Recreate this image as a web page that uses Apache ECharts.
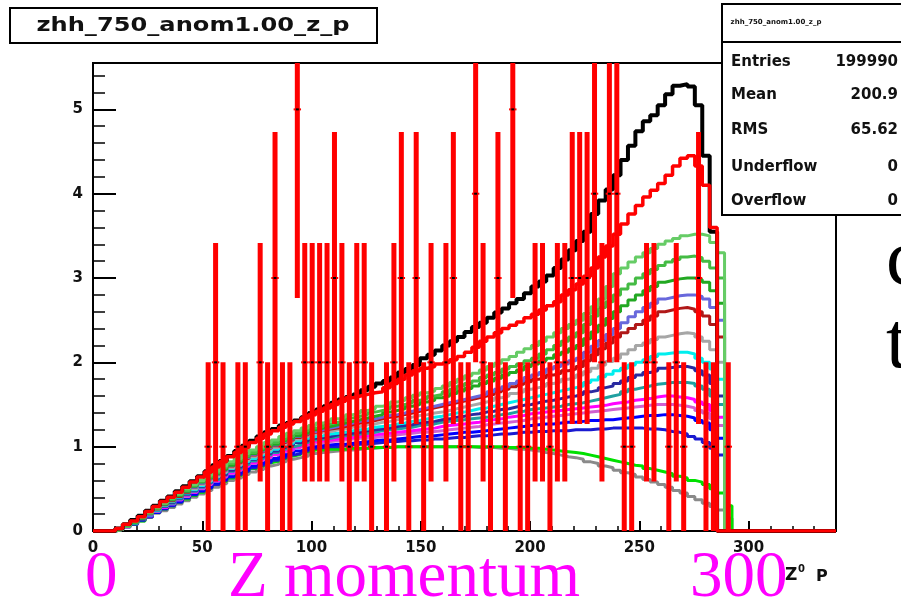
<!DOCTYPE html>
<html>
<head>
<meta charset="utf-8">
<script src="https://cdn.jsdelivr.net/npm/echarts@6/dist/echarts.min.js"></script>
<style>
html, body { margin: 0; padding: 0; background: #fff; }
#chart { width: 901px; height: 605px; }
</style>
</head>
<body>
<div id="chart"></div>
<script>
// histogram layout: 100 bins over 0..340
const X_MIN = 0, X_MAX = 340, NBINS = 100
const BIN_W = (X_MAX - X_MIN) / NBINS
const Y_MAX = 5.55

// tick labels
const xTickLabels = [0, 50, 100, 150, 200, 250, 300]
const yTickLabels = [0, 1, 2, 3, 4, 5]

// bin contents, bin 0 first (empty bins after the end are 0)
const hBlack = [0,0,0,0.03,0.08,0.13,0.18,0.24,0.3,0.36,0.41,0.47,0.53,0.59,0.65,0.71,0.78,0.83,0.89,0.95,1.01,1.07,1.12,1.17,1.21,1.25,1.28,1.31,1.35,1.4,1.44,1.48,1.52,1.56,1.59,1.62,1.67,1.71,1.75,1.78,1.82,1.88,1.92,1.97,2.05,2.09,2.14,2.2,2.25,2.3,2.36,2.42,2.47,2.53,2.59,2.64,2.7,2.75,2.82,2.9,2.96,3.03,3.12,3.22,3.33,3.44,3.55,3.76,3.92,4.05,4.22,4.4,4.57,4.74,4.86,4.93,5.05,5.18,5.28,5.3,5.27,5.05,4.45,3.55,0,0]
const hRedMC = [0,0,0,0.03,0.08,0.12,0.17,0.23,0.29,0.35,0.4,0.46,0.52,0.58,0.64,0.7,0.76,0.82,0.88,0.93,0.99,1.05,1.1,1.15,1.19,1.23,1.27,1.3,1.34,1.38,1.42,1.46,1.5,1.54,1.58,1.6,1.62,1.64,1.65,1.7,1.75,1.8,1.85,1.9,1.93,1.95,1.98,2.0,2.03,2.07,2.12,2.18,2.25,2.3,2.35,2.4,2.44,2.48,2.53,2.57,2.62,2.67,2.72,2.8,2.86,2.93,3.02,3.12,3.25,3.38,3.52,3.64,3.76,3.86,3.96,4.04,4.12,4.22,4.33,4.42,4.45,4.33,4.1,3.6,0,0]
const hLightGreen = [0,0,0,0.02,0.06,0.11,0.16,0.22,0.28,0.33,0.39,0.44,0.5,0.55,0.6,0.66,0.71,0.77,0.82,0.86,0.92,0.96,1.0,1.05,1.08,1.12,1.16,1.19,1.22,1.25,1.28,1.3,1.33,1.35,1.38,1.4,1.43,1.45,1.48,1.5,1.53,1.55,1.58,1.61,1.64,1.66,1.69,1.72,1.76,1.8,1.84,1.87,1.91,1.95,1.99,2.03,2.07,2.12,2.16,2.2,2.25,2.3,2.35,2.4,2.45,2.5,2.58,2.66,2.75,2.9,3.05,3.12,3.19,3.25,3.3,3.35,3.4,3.44,3.47,3.5,3.52,3.52,3.5,3.42,3.3,0]
const hGreenMid = [0,0,0,0.02,0.06,0.11,0.16,0.21,0.27,0.33,0.38,0.43,0.48,0.54,0.59,0.64,0.69,0.75,0.8,0.84,0.89,0.93,0.98,1.02,1.05,1.09,1.12,1.16,1.19,1.22,1.24,1.27,1.29,1.31,1.34,1.36,1.38,1.41,1.43,1.45,1.48,1.5,1.52,1.55,1.57,1.6,1.62,1.65,1.68,1.72,1.75,1.78,1.82,1.85,1.88,1.92,1.95,1.98,2.02,2.05,2.1,2.15,2.2,2.25,2.3,2.35,2.45,2.55,2.65,2.72,2.8,2.87,2.93,3.0,3.05,3.1,3.15,3.19,3.22,3.25,3.26,3.24,3.2,3.12,3.0,0]
const hGreen = [0,0,0,0.02,0.06,0.1,0.15,0.21,0.27,0.32,0.37,0.42,0.47,0.53,0.58,0.63,0.68,0.73,0.78,0.82,0.88,0.92,0.96,1.0,1.03,1.07,1.1,1.13,1.16,1.2,1.22,1.24,1.26,1.28,1.3,1.32,1.34,1.36,1.38,1.41,1.43,1.45,1.48,1.5,1.53,1.55,1.58,1.6,1.63,1.66,1.69,1.72,1.75,1.78,1.81,1.85,1.88,1.91,1.95,1.98,2.02,2.05,2.09,2.12,2.16,2.2,2.28,2.36,2.44,2.52,2.6,2.67,2.74,2.8,2.85,2.9,2.95,2.97,2.99,3.0,3.0,2.98,2.95,2.85,2.7,0]
const hSlate = [0,0,0,0.02,0.06,0.1,0.15,0.2,0.27,0.32,0.37,0.42,0.47,0.52,0.57,0.62,0.67,0.72,0.78,0.82,0.87,0.91,0.95,0.99,1.02,1.06,1.09,1.12,1.15,1.18,1.2,1.22,1.24,1.26,1.28,1.3,1.31,1.33,1.35,1.37,1.38,1.4,1.42,1.44,1.46,1.48,1.5,1.52,1.54,1.56,1.58,1.6,1.62,1.65,1.68,1.71,1.75,1.78,1.82,1.85,1.88,1.92,1.95,1.98,2.02,2.05,2.12,2.19,2.26,2.33,2.4,2.47,2.54,2.6,2.65,2.7,2.75,2.77,2.79,2.8,2.8,2.78,2.75,2.65,2.5,0]
const hDarkRed = [0,0,0,0.02,0.06,0.1,0.15,0.2,0.26,0.31,0.36,0.41,0.46,0.52,0.57,0.62,0.67,0.72,0.77,0.81,0.86,0.9,0.94,0.98,1.01,1.05,1.08,1.11,1.14,1.17,1.19,1.21,1.22,1.24,1.26,1.28,1.29,1.31,1.33,1.35,1.36,1.38,1.4,1.42,1.44,1.46,1.48,1.5,1.52,1.54,1.56,1.58,1.6,1.62,1.65,1.68,1.71,1.74,1.77,1.8,1.82,1.85,1.87,1.9,1.92,1.95,2.02,2.09,2.16,2.23,2.3,2.35,2.4,2.45,2.5,2.55,2.6,2.62,2.64,2.65,2.63,2.6,2.55,2.45,2.3,0]
const hGray = [0,0,0,0.02,0.06,0.1,0.15,0.2,0.26,0.31,0.36,0.41,0.46,0.5,0.55,0.6,0.65,0.7,0.75,0.79,0.84,0.88,0.92,0.96,0.99,1.03,1.06,1.09,1.12,1.15,1.17,1.18,1.2,1.21,1.23,1.24,1.26,1.27,1.29,1.3,1.32,1.33,1.35,1.37,1.38,1.4,1.41,1.43,1.45,1.47,1.49,1.51,1.53,1.55,1.58,1.6,1.63,1.65,1.68,1.7,1.72,1.75,1.77,1.8,1.82,1.85,1.89,1.93,1.97,2.01,2.05,2.1,2.15,2.2,2.23,2.27,2.3,2.32,2.34,2.35,2.34,2.3,2.25,2.15,2.0,0]
const hCyan = [0,0,0,0.02,0.06,0.1,0.15,0.19,0.25,0.3,0.35,0.4,0.45,0.49,0.54,0.59,0.64,0.69,0.74,0.78,0.82,0.86,0.9,0.94,0.97,1.01,1.04,1.07,1.1,1.12,1.13,1.15,1.16,1.17,1.19,1.2,1.21,1.23,1.24,1.25,1.27,1.28,1.3,1.31,1.33,1.35,1.36,1.38,1.4,1.41,1.43,1.45,1.46,1.48,1.5,1.52,1.54,1.56,1.58,1.6,1.62,1.64,1.66,1.68,1.7,1.72,1.76,1.79,1.83,1.86,1.9,1.93,1.97,2.0,2.03,2.07,2.1,2.11,2.12,2.12,2.1,2.05,2.0,1.92,1.8,0]
const hNavy = [0,0,0,0.02,0.06,0.1,0.14,0.19,0.25,0.29,0.34,0.39,0.44,0.48,0.53,0.58,0.63,0.67,0.72,0.76,0.81,0.85,0.88,0.92,0.95,0.99,1.02,1.05,1.07,1.1,1.11,1.12,1.14,1.15,1.16,1.17,1.19,1.2,1.21,1.22,1.24,1.25,1.26,1.28,1.29,1.3,1.32,1.33,1.35,1.36,1.38,1.39,1.41,1.42,1.44,1.45,1.47,1.49,1.5,1.52,1.54,1.55,1.57,1.59,1.6,1.62,1.65,1.67,1.7,1.72,1.75,1.78,1.82,1.85,1.88,1.9,1.93,1.94,1.95,1.95,1.93,1.9,1.85,1.75,1.6,0]
const hTeal = [0,0,0,0.02,0.06,0.09,0.14,0.19,0.24,0.29,0.33,0.38,0.43,0.47,0.52,0.57,0.61,0.66,0.71,0.74,0.79,0.83,0.86,0.9,0.93,0.97,1.0,1.02,1.05,1.08,1.09,1.1,1.12,1.13,1.14,1.15,1.16,1.17,1.19,1.2,1.21,1.22,1.23,1.25,1.26,1.27,1.29,1.3,1.31,1.32,1.33,1.34,1.35,1.36,1.38,1.39,1.41,1.42,1.44,1.45,1.46,1.47,1.48,1.5,1.51,1.52,1.54,1.56,1.58,1.6,1.62,1.65,1.68,1.7,1.72,1.74,1.75,1.76,1.76,1.76,1.75,1.72,1.68,1.6,1.5,0]
const hMagenta = [0,0,0,0.02,0.05,0.09,0.14,0.18,0.24,0.28,0.33,0.37,0.42,0.46,0.51,0.56,0.6,0.65,0.69,0.73,0.77,0.81,0.85,0.88,0.91,0.95,0.97,1.0,1.03,1.06,1.07,1.08,1.09,1.1,1.11,1.12,1.13,1.14,1.15,1.16,1.17,1.18,1.19,1.2,1.21,1.22,1.24,1.25,1.26,1.27,1.28,1.29,1.31,1.32,1.33,1.35,1.36,1.37,1.39,1.4,1.41,1.42,1.43,1.44,1.45,1.46,1.47,1.48,1.49,1.51,1.52,1.53,1.55,1.56,1.57,1.59,1.6,1.6,1.59,1.58,1.56,1.53,1.5,1.43,1.35,0]
const hViolet = [0,0,0,0.02,0.05,0.09,0.14,0.18,0.23,0.28,0.32,0.37,0.41,0.46,0.5,0.55,0.59,0.64,0.68,0.72,0.77,0.8,0.84,0.87,0.9,0.94,0.96,0.99,1.02,1.04,1.05,1.06,1.07,1.08,1.09,1.1,1.1,1.11,1.12,1.13,1.14,1.15,1.16,1.17,1.17,1.18,1.19,1.2,1.21,1.22,1.23,1.24,1.26,1.27,1.28,1.29,1.3,1.31,1.33,1.34,1.35,1.36,1.37,1.38,1.39,1.4,1.41,1.42,1.43,1.44,1.45,1.46,1.47,1.48,1.49,1.5,1.5,1.5,1.49,1.48,1.46,1.43,1.4,1.33,1.25,0]
const hBlue = [0,0,0,0.02,0.05,0.09,0.13,0.17,0.22,0.27,0.31,0.35,0.4,0.44,0.48,0.52,0.57,0.61,0.65,0.69,0.73,0.77,0.8,0.83,0.86,0.89,0.92,0.95,0.97,1.0,1.01,1.02,1.03,1.03,1.04,1.05,1.06,1.07,1.08,1.08,1.09,1.1,1.11,1.12,1.12,1.13,1.14,1.15,1.16,1.17,1.17,1.18,1.19,1.2,1.21,1.22,1.23,1.24,1.25,1.26,1.27,1.27,1.28,1.29,1.29,1.3,1.31,1.31,1.32,1.32,1.33,1.34,1.35,1.36,1.37,1.37,1.38,1.38,1.37,1.36,1.34,1.31,1.28,1.2,1.1,0]
const hBlue2 = [0,0,0,0.02,0.05,0.08,0.13,0.17,0.22,0.26,0.3,0.34,0.39,0.43,0.47,0.51,0.55,0.6,0.64,0.67,0.71,0.75,0.78,0.81,0.84,0.87,0.9,0.92,0.95,0.98,0.99,1.0,1.0,1.01,1.02,1.03,1.03,1.04,1.05,1.06,1.06,1.07,1.07,1.08,1.08,1.09,1.09,1.1,1.11,1.11,1.12,1.13,1.13,1.14,1.15,1.15,1.16,1.17,1.17,1.18,1.18,1.19,1.19,1.19,1.2,1.2,1.2,1.21,1.21,1.22,1.22,1.22,1.22,1.22,1.21,1.21,1.2,1.18,1.17,1.15,1.12,1.09,1.05,0.98,0.9,0]
const hBrightGreen = [0,0,0,0.02,0.05,0.08,0.12,0.17,0.22,0.26,0.3,0.34,0.38,0.42,0.46,0.51,0.55,0.59,0.63,0.66,0.71,0.74,0.77,0.81,0.83,0.86,0.89,0.91,0.94,0.96,0.96,0.97,0.97,0.97,0.98,0.98,0.98,0.99,0.99,0.99,1.0,1.0,1.0,1.0,1.0,1.0,1.0,1.0,1.0,1.0,1.0,1.0,1.0,1.0,1.0,0.99,0.99,0.99,0.98,0.98,0.97,0.96,0.95,0.94,0.93,0.92,0.9,0.88,0.86,0.84,0.82,0.8,0.78,0.77,0.74,0.72,0.7,0.68,0.65,0.63,0.6,0.58,0.55,0.5,0.45,0.3]
const hDarkGray = [0,0,0,0.02,0.05,0.08,0.12,0.16,0.21,0.24,0.28,0.32,0.36,0.4,0.44,0.48,0.52,0.56,0.6,0.63,0.67,0.7,0.73,0.77,0.79,0.82,0.85,0.87,0.89,0.92,0.93,0.94,0.95,0.96,0.96,0.97,0.98,0.98,0.99,0.99,1.0,1.0,1.0,1.0,1.0,1.0,1.0,1.0,1.0,1.0,1.0,0.99,0.99,0.99,0.98,0.98,0.97,0.97,0.96,0.95,0.93,0.92,0.9,0.88,0.87,0.85,0.82,0.8,0.77,0.75,0.72,0.69,0.67,0.64,0.61,0.58,0.55,0.52,0.48,0.45,0.41,0.37,0.33,0.29,0.25,0.15]

// data: entries per bin (drawn with sqrt(N) error bars)
const dataCounts = [0,0,0,0,0,0,0,0,0,0,0,0,0,0,0,1,2,1,0,1,1,0,2,1,3,1,1,5,2,2,2,2,3,2,1,2,2,1,0,1,2,3,1,3,1,2,0,2,3,1,1,4,2,1,3,1,5,1,1,2,2,1,2,2,3,3,3,4,2,4,4,1,1,0,2,2,0,1,2,1,0,3,1,1,0,1]

const mcHists = [
  { name: 'darkgray', color: '#8a8a8a', vals: hDarkGray },
  { name: 'brightgreen', color: '#00e000', vals: hBrightGreen },
  { name: 'blue2', color: '#1a1ad0', vals: hBlue2 },
  { name: 'blue', color: '#0000ff', vals: hBlue },
  { name: 'violet', color: '#d060d0', vals: hViolet },
  { name: 'magenta', color: '#ff00ff', vals: hMagenta },
  { name: 'teal', color: '#20a0a0', vals: hTeal },
  { name: 'navy', color: '#2a2aa0', vals: hNavy },
  { name: 'cyan', color: '#00eeee', vals: hCyan },
  { name: 'gray', color: '#a6a6a6', vals: hGray },
  { name: 'darkred', color: '#b01818', vals: hDarkRed },
  { name: 'slate', color: '#6868dc', vals: hSlate },
  { name: 'green', color: '#22a822', vals: hGreen },
  { name: 'greenmid', color: '#44bb44', vals: hGreenMid },
  { name: 'lightgreen', color: '#66cc66', vals: hLightGreen }
]

// step points at the left edge of each bin, plus the closing edge
function stepData(vals) {
  const pts = []
  for (let i = 0; i < NBINS; i++) {
    pts.push([X_MIN + i * BIN_W, vals[i] || 0])
  }
  pts.push([X_MAX, vals[NBINS - 1] || 0])
  return pts
}

function stepSeries(name, color, vals, width, z) {
  return {
    name: name,
    type: 'line',
    step: 'end',
    data: stepData(vals),
    symbol: 'none',
    silent: true,
    z: z,
    lineStyle: { color: color, width: width }
  }
}

const errData = []
dataCounts.forEach((n, i) => {
  if (n > 0) errData.push([X_MIN + (i + 0.5) * BIN_W, n])
})

function renderErr(params, api) {
  const x = api.value(0)
  const n = api.value(1)
  const e = Math.sqrt(n)
  const top = api.coord([x, n + e])
  const bot = api.coord([x, Math.max(0, n - e)])
  const l = api.coord([x - BIN_W / 2, n])
  const r = api.coord([x + BIN_W / 2, n])
  const bar = echarts.graphic.clipRectByRect(
    { x: top[0] - 2.5, y: top[1], width: 5, height: bot[1] - top[1] },
    params.coordSys
  )
  const kids = []
  if (bar) kids.push({ type: 'rect', shape: bar, style: { fill: '#ff0000' } })
  kids.push({ type: 'line', shape: { x1: l[0], y1: l[1], x2: r[0], y2: r[1] }, style: { stroke: '#ff0000', lineWidth: 2 } })
  kids.push({ type: 'rect', shape: { x: top[0] - 1.5, y: l[1] - 1, width: 3, height: 2 }, style: { fill: '#000' } })
  return { type: 'group', children: kids }
}

const series = []
mcHists.forEach((h, k) => series.push(stepSeries(h.name, h.color, h.vals, 3, 2 + k * 0.01)))
series.push(stepSeries('black', '#000000', hBlack, 4, 3))
series.push(stepSeries('red', '#ff0000', hRedMC, 3.5, 3.1))
series.push({
  name: 'data',
  type: 'custom',
  renderItem: renderErr,
  data: errData,
  encode: { x: 0, y: 1 },
  silent: true,
  z: 4
})

const labelFont = { fontFamily: 'DejaVu Sans', fontWeight: 'bold', fontSize: 15, color: '#111' }
const magenta = '#ff00ff'

const chart = echarts.init(document.getElementById('chart'), null, { renderer: 'canvas' })

const option = {
  animation: false,
  backgroundColor: '#ffffff',
  grid: {
    left: 93, top: 63, width: 743, height: 468,
    show: true, borderColor: '#000', borderWidth: 2,
    containLabel: false, outerBoundsMode: 'none'
  },
  xAxis: [
    {
      type: 'value', min: X_MIN, max: X_MAX, interval: 50,
      axisLine: { show: true, onZero: false, lineStyle: { color: '#000', width: 2 } },
      axisTick: { show: true, inside: true, length: 10, lineStyle: { color: '#000', width: 2 } },
      axisLabel: Object.assign({
        margin: 10, showMaxLabel: false,
        formatter: v => xTickLabels.includes(v) ? String(v) : ''
      }, labelFont),
      splitLine: { show: false }
    },
    {
      type: 'value', min: X_MIN, max: X_MAX, interval: 10, position: 'bottom',
      axisLine: { show: false },
      axisTick: { show: true, inside: true, length: 5, lineStyle: { color: '#000', width: 1.5 } },
      axisLabel: { show: false },
      splitLine: { show: false }
    }
  ],
  yAxis: [
    {
      type: 'value', min: 0, max: Y_MAX, interval: 1,
      axisLine: { show: true, onZero: false, lineStyle: { color: '#000', width: 2 } },
      axisTick: { show: true, inside: true, length: 23, lineStyle: { color: '#000', width: 2 } },
      axisLabel: Object.assign({
        margin: 10, showMaxLabel: false,
        formatter: v => yTickLabels.includes(v) ? String(v) : ''
      }, labelFont),
      splitLine: { show: false }
    },
    {
      type: 'value', min: 0, max: Y_MAX, interval: 0.2, position: 'left',
      axisLine: { show: false },
      axisTick: { show: true, inside: true, length: 12, lineStyle: { color: '#000', width: 1.5 } },
      axisLabel: { show: false },
      splitLine: { show: false }
    }
  ],
  series: series,
  graphic: [
    // title box
    { type: 'rect', z: 50, shape: { x: 10, y: 8, width: 367, height: 35 }, style: { fill: '#fff', stroke: '#000', lineWidth: 2 } },
    { type: 'text', z: 51, x: 193, y: 26, scaleX: 1.27,
      style: { text: 'zhh_750_anom1.00_z_p', fill: '#111', font: 'bold 19px "DejaVu Sans"', textAlign: 'center', textVerticalAlign: 'middle' } },
    // stats box
    { type: 'rect', z: 50, shape: { x: 722, y: 4, width: 200, height: 211 }, style: { fill: '#fff', stroke: '#000', lineWidth: 2 } },
    { type: 'line', z: 51, shape: { x1: 722, y1: 42, x2: 905, y2: 42 }, style: { stroke: '#000', lineWidth: 2 } },
    { type: 'text', z: 51, x: 776, y: 22,
      style: { text: 'zhh_750_anom1.00_z_p', fill: '#111', font: 'bold 7px "DejaVu Sans"', textAlign: 'center', textVerticalAlign: 'middle' } },
    ...[['Entries', '199990', 62], ['Mean', '200.9', 95], ['RMS', '65.62', 130], ['Underflow', '0', 167], ['Overflow', '0', 201]].flatMap(r => [
      { type: 'text', z: 51, x: 731, y: r[2], style: { text: r[0], fill: '#111', font: 'bold 15px "DejaVu Sans"', textAlign: 'left', textVerticalAlign: 'middle' } },
      { type: 'text', z: 51, x: 898, y: r[2], style: { text: r[1], fill: '#111', font: 'bold 15px "DejaVu Sans"', textAlign: 'right', textVerticalAlign: 'middle' } }
    ]),
    // axis title
    { type: 'text', z: 51, x: 785, y: 576, style: { text: 'Z', fill: '#111', font: 'bold 17px "DejaVu Sans"', textAlign: 'left', textVerticalAlign: 'middle' } },
    { type: 'text', z: 51, x: 798, y: 569, style: { text: '0', fill: '#111', font: 'bold 10px "DejaVu Sans"', textAlign: 'left', textVerticalAlign: 'middle' } },
    { type: 'text', z: 51, x: 816, y: 577, style: { text: 'P', fill: '#111', font: 'bold 16px "DejaVu Sans"', textAlign: 'left', textVerticalAlign: 'middle' } },
    // slide text
    { type: 'text', z: 51, x: 85, y: 579, style: { text: '0', fill: magenta, font: '65px "Liberation Serif"', textAlign: 'left', textVerticalAlign: 'middle' } },
    { type: 'text', z: 51, x: 228, y: 579, style: { text: 'Z momentum', fill: magenta, font: '65px "Liberation Serif"', textAlign: 'left', textVerticalAlign: 'middle' } },
    { type: 'text', z: 51, x: 690, y: 579, style: { text: '300', fill: magenta, font: '65px "Liberation Serif"', textAlign: 'left', textVerticalAlign: 'middle' } },
    { type: 'text', z: 51, x: 886, y: 263, style: { text: 'c', fill: '#000', font: '80px "Liberation Serif"', textAlign: 'left', textVerticalAlign: 'middle' } },
    { type: 'text', z: 51, x: 886, y: 346, style: { text: 't', fill: '#000', font: '80px "Liberation Serif"', textAlign: 'left', textVerticalAlign: 'middle' } }
  ]
}

chart.setOption(option)
</script>
</body>
</html>
